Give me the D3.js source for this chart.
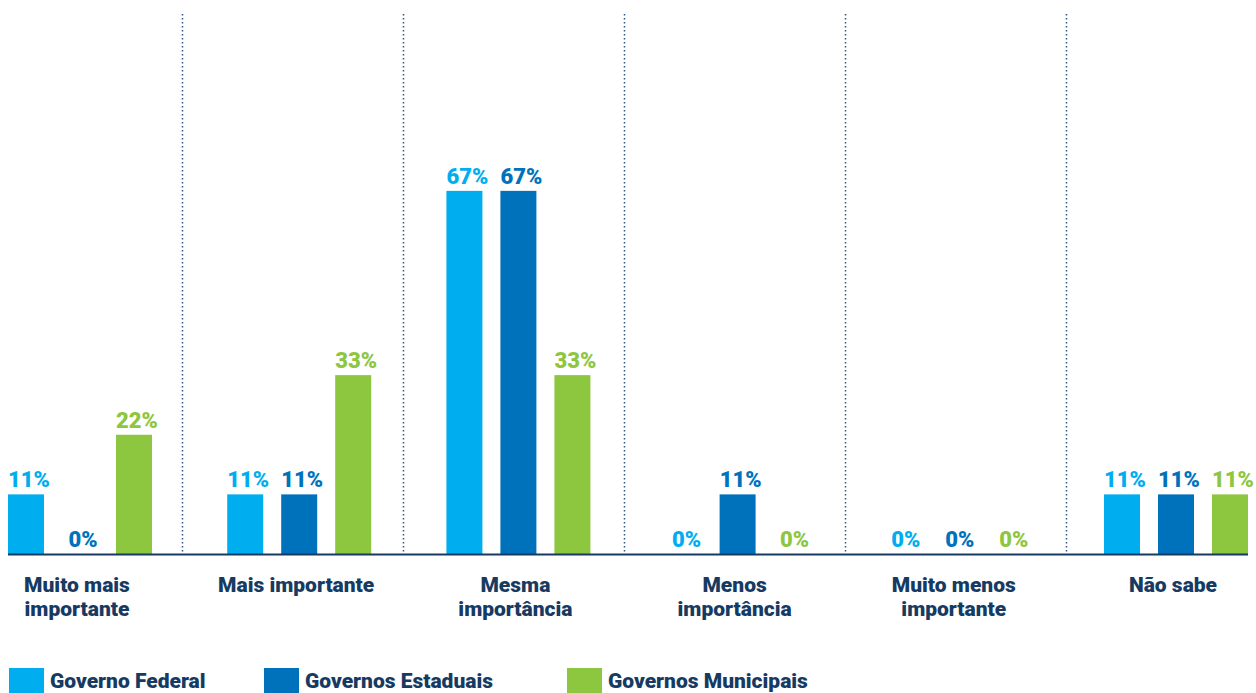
<!DOCTYPE html>
<html>
<head>
<meta charset="utf-8">
<script src="https://cdn.jsdelivr.net/npm/d3@7"></script>
<style>
  html, body { margin: 0; padding: 0; background: #fff; }
  svg { display: block; }
  text { font-family: Roboto, "DejaVu Sans", sans-serif; font-weight: 900; }
</style>
</head>
<body>
<svg id="chart" width="1256" height="693"></svg>
<script>
const categories = [
  ["Muito mais", "importante"],
  ["Mais importante"],
  ["Mesma", "importância"],
  ["Menos", "importância"],
  ["Muito menos", "importante"],
  ["Não sabe"]
];
const seriesNames = ["Governo Federal", "Governos Estaduais", "Governos Municipais"];
const federal   = [11, 11, 67, 0, 0, 11];
const estaduais = [0, 11, 67, 11, 0, 11];
const municipais = [22, 33, 33, 0, 0, 11];
const seriesValues = [federal, estaduais, municipais];
const colors = ["#00aeef", "#0072bc", "#8dc63f"];
const navy = "#163a62";

const svg = d3.select("#chart");
const catIdx = d3.range(categories.length);

const xDiv = d3.scaleBand().domain(catIdx).range([-39, -39 + 221 * 6]).padding(0);
const xGroup = d3.scaleBand().domain(catIdx).range([8, 8 + 219.2 * 6]).paddingInner(0).paddingOuter(0);
const xInner = d3.scaleBand().domain(d3.range(3)).range([0, 144]).paddingInner(1/3).paddingOuter(0);
const y = d3.scaleLinear().domain([0, 100]).range([554, 12]);

svg.append("g").selectAll("line")
  .data(catIdx.slice(1))
  .join("line")
  .attr("x1", d => xDiv(d) + 0.5)
  .attr("x2", d => xDiv(d) + 0.5)
  .attr("y1", 14)
  .attr("y2", y(0))
  .attr("stroke", "#2f5580")
  .attr("stroke-width", 1.5)
  .attr("stroke-dasharray", "1.5,2.5");

const groups = svg.append("g").selectAll("g")
  .data(catIdx)
  .join("g")
  .attr("transform", d => `translate(${xGroup(d)},0)`);

groups.selectAll("rect")
  .data(i => seriesValues.map((s, k) => ({k, v: s[i]})))
  .join("rect")
  .attr("x", d => xInner(d.k))
  .attr("width", xInner.bandwidth())
  .attr("y", d => y(d.v))
  .attr("height", d => y(0) - y(d.v))
  .attr("fill", d => colors[d.k]);

groups.selectAll("text.val")
  .data(i => seriesValues.map((s, k) => ({k, v: s[i]})))
  .join("text")
  .attr("class", "val")
  .attr("x", d => xInner(d.k) + xInner.bandwidth() / 2 + 3)
  .attr("y", d => y(d.v) - 7)
  .attr("text-anchor", "middle")
  .attr("font-size", 22)
  .attr("fill", d => colors[d.k])
  .text(d => d.v + "%");

svg.append("line")
  .attr("x1", 8).attr("x2", 1248)
  .attr("y1", y(0) + 0.5).attr("y2", y(0) + 0.5)
  .attr("stroke", navy).attr("stroke-width", 2);

groups.append("text")
  .attr("x", 144 / 2 - 3)
  .attr("y", 592)
  .attr("text-anchor", "middle")
  .attr("font-size", 21)
  .attr("fill", navy)
  .selectAll("tspan")
  .data(i => categories[i])
  .join("tspan")
  .attr("x", 144 / 2 - 3)
  .attr("dy", (d, j) => j === 0 ? 0 : 24)
  .text(d => d);

const legendX = [9, 264, 567];
const legend = svg.append("g").selectAll("g")
  .data(seriesNames)
  .join("g")
  .attr("transform", (d, i) => `translate(${legendX[i]},668)`);
legend.append("rect")
  .attr("width", 35).attr("height", 26)
  .attr("fill", (d, i) => colors[i]);
legend.append("text")
  .attr("x", 41).attr("y", 20)
  .attr("font-size", 21)
  .attr("fill", navy)
  .text(d => d);
</script>
</body>
</html>
